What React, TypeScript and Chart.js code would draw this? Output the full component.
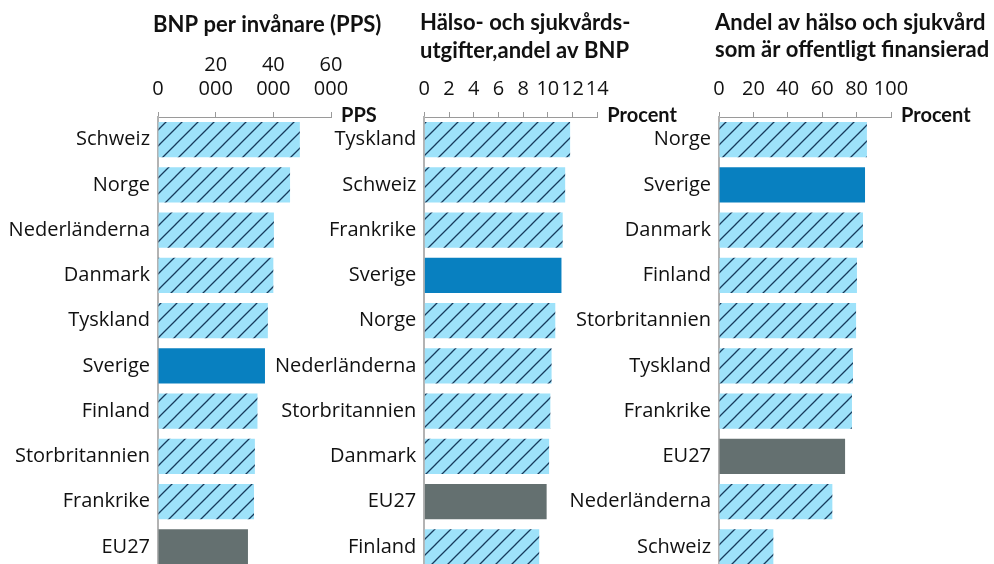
import React, { useEffect, useRef } from "react";
import { Chart, registerables } from "chart.js";

Chart.register(...registerables);

const FONT = "'Open Sans', 'Noto Sans', sans-serif";
const TITLE_FONT = "Lato, 'Open Sans', sans-serif";

// ---- Data ----
const gdpCountries = ["Schweiz", "Norge", "Nederländerna", "Danmark", "Tyskland", "Sverige", "Finland", "Storbritannien", "Frankrike", "EU27"];
const gdpValues = [49200, 45800, 40200, 40000, 38100, 37100, 34500, 33600, 33300, 31200];
const gdpTickLabels: (string | string[])[] = ["0", ["20", "000"], ["40", "000"], ["60", "000"]];

const healthCountries = ["Tyskland", "Schweiz", "Frankrike", "Sverige", "Norge", "Nederländerna", "Storbritannien", "Danmark", "EU27", "Finland"];
const healthValues = [11.8, 11.4, 11.2, 11.1, 10.6, 10.3, 10.2, 10.1, 9.9, 9.3];
const healthTickLabels = ["0", "2", "4", "6", "8", "10", "12", "14"];

const publicCountries = ["Norge", "Sverige", "Danmark", "Finland", "Storbritannien", "Tyskland", "Frankrike", "EU27", "Nederländerna", "Schweiz"];
const publicValues = [86.0, 84.9, 83.7, 80.2, 79.7, 77.9, 77.3, 73.3, 65.9, 31.6];
const publicTickLabels = ["0", "20", "40", "60", "80", "100"];

const HIGHLIGHT = "Sverige";
const AVERAGE = "EU27";

const COLOR_HATCH_BG = "#9ee2fa";
const COLOR_HATCH_LINE = "#173b5c";
const COLOR_HIGHLIGHT = "#0880c0";
const COLOR_AVERAGE = "#647070";

function makeHatch(): CanvasPattern | string {
  const size = 16;
  const c = document.createElement("canvas");
  c.width = size;
  c.height = size;
  const ctx = c.getContext("2d");
  if (!ctx) return COLOR_HATCH_BG;
  ctx.fillStyle = COLOR_HATCH_BG;
  ctx.fillRect(0, 0, size, size);
  ctx.strokeStyle = COLOR_HATCH_LINE;
  ctx.lineWidth = 1.3;
  ctx.beginPath();
  ctx.moveTo(-2, size + 2);
  ctx.lineTo(size + 2, -2);
  ctx.moveTo(-4, 4);
  ctx.lineTo(4, -4);
  ctx.moveTo(size - 4, size + 4);
  ctx.lineTo(size + 4, size - 4);
  ctx.stroke();
  const p = ctx.createPattern(c, "repeat");
  return p || COLOR_HATCH_BG;
}

type PanelProps = {
  left: number;
  width: number;
  axisLeft: number;
  axisRight: number;
  countries: string[];
  values: number[];
  max: number;
  step: number;
  tickLabels: (string | string[])[];
  unit: string;
  title: string[];
  titleX: number;
  titleBaselines: number[];
};

const CANVAS_H = 595;
const AXIS_TOP = 117;
const AREA_BOTTOM = 569.5;

function Panel(props: PanelProps) {
  const ref = useRef<HTMLCanvasElement | null>(null);
  useEffect(() => {
    const canvas = ref.current;
    if (!canvas) return;
    const hatch = makeHatch();
    const colors = props.countries.map((c) =>
      c === HIGHLIGHT ? COLOR_HIGHLIGHT : c === AVERAGE ? COLOR_AVERAGE : hatch
    );
    const yWidth = props.axisLeft - props.left;
    const padRight = props.left + props.width - props.axisRight;
    const padBottom = CANVAS_H - AREA_BOTTOM;

    const textPlugin = {
      id: "panelText",
      afterDraw(chart: any) {
        const ctx = chart.ctx as CanvasRenderingContext2D;
        const area = chart.chartArea;
        ctx.save();
        ctx.fillStyle = "#111111";
        ctx.textAlign = "left";
        ctx.textBaseline = "alphabetic";
        ctx.font = `bold 22px ${TITLE_FONT}`;
        props.title.forEach((line, i) => {
          ctx.fillText(line, props.titleX - props.left, props.titleBaselines[i]);
        });
        ctx.font = `bold 20px ${TITLE_FONT}`;
        ctx.fillText(props.unit, area.right + 10, 122);
        ctx.restore();
      },
    };

    const chart = new Chart(canvas, {
      type: "bar",
      data: {
        labels: props.countries,
        datasets: [
          {
            data: props.values,
            backgroundColor: colors as any,
            borderWidth: 0,
            barPercentage: 35.3 / 45.25,
            categoryPercentage: 1,
          },
        ],
      },
      options: {
        indexAxis: "y",
        responsive: false,
        animation: false,
        devicePixelRatio: 1,
        layout: { padding: { left: 0, top: 0, right: padRight, bottom: padBottom } },
        plugins: {
          legend: { display: false },
          tooltip: { enabled: false },
          title: { display: false },
        },
        scales: {
          x: {
            type: "linear",
            position: "top",
            min: 0,
            max: props.max,
            afterFit: (s: any) => {
              s.height = AXIS_TOP;
            },
            ticks: {
              stepSize: props.step,
              autoSkip: false,
              maxRotation: 0,
              minRotation: 0,
              padding: 11,
              color: "#111111",
              font: { family: FONT, size: 20, lineHeight: 1.2 },
              callback: (_v: any, i: number) => props.tickLabels[i],
            },
            grid: {
              display: true,
              drawOnChartArea: false,
              drawTicks: true,
              tickLength: 5,
              color: "#9a9a9a",
            },
            border: { display: true, color: "#9a9a9a", width: 1 },
          },
          y: {
            type: "category",
            afterFit: (s: any) => {
              s.width = yWidth;
            },
            ticks: {
              padding: 8,
              color: "#111111",
              font: { family: FONT, size: 20 },
            },
            grid: { display: false, drawTicks: false },
            border: { display: true, color: "#b3b3b3", width: 2 },
          },
        },
      } as any,
      plugins: [textPlugin],
    });
    return () => chart.destroy();
  }, []);
  return (
    <canvas
      ref={ref}
      width={props.width}
      height={CANVAS_H}
      style={{ position: "absolute", left: props.left, top: 0, width: props.width, height: CANVAS_H }}
    />
  );
}

export default function App() {
  return (
    <div
      style={{
        position: "fixed",
        left: 0,
        top: 0,
        width: 994,
        height: 564,
        overflow: "hidden",
        background: "#ffffff",
      }}
    >
      <Panel
        left={0}
        width={400}
        axisLeft={158}
        axisRight={331}
        countries={gdpCountries}
        values={gdpValues}
        max={60000}
        step={20000}
        tickLabels={gdpTickLabels}
        unit="PPS"
        title={["BNP per invånare (PPS)"]}
        titleX={153}
        titleBaselines={[32]}
      />
      <Panel
        left={260}
        width={430}
        axisLeft={424.3}
        axisRight={597.3}
        countries={healthCountries}
        values={healthValues}
        max={14}
        step={2}
        tickLabels={healthTickLabels}
        unit="Procent"
        title={["Hälso- och sjukvårds-", "utgifter,andel av BNP"]}
        titleX={420}
        titleBaselines={[30, 58]}
      />
      <Panel
        left={560}
        width={434}
        axisLeft={719}
        axisRight={891}
        countries={publicCountries}
        values={publicValues}
        max={100}
        step={20}
        tickLabels={publicTickLabels}
        unit="Procent"
        title={["Andel av hälso och sjukvård", "som är offentligt finansierad"]}
        titleX={715}
        titleBaselines={[30, 57]}
      />
    </div>
  );
}
